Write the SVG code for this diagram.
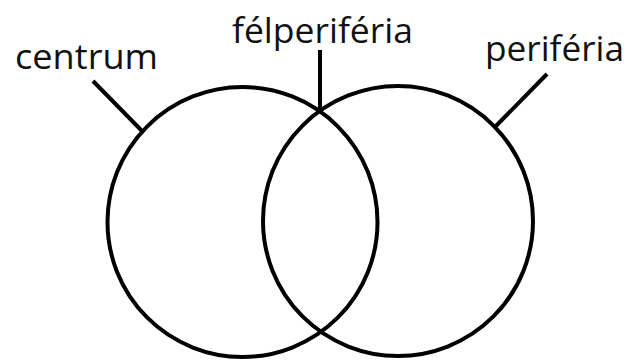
<svg xmlns="http://www.w3.org/2000/svg" width="627" height="361" viewBox="0 0 627 361">
<style>
.c{fill:none;stroke:#000;stroke-width:4}
.l{stroke:#000;stroke-width:4;fill:none}
text{font-family:"Open Sans","Noto Sans",sans-serif;font-size:35px;fill:#111}
</style>
<rect width="627" height="361" fill="#fff"/>
<g id="centrum">
<circle class="c" cx="242.5" cy="222" r="135"/>
<text x="15" y="69" textLength="143" lengthAdjust="spacingAndGlyphs">centrum</text>
</g>
<g id="periferia">
<circle class="c" cx="398" cy="221" r="135"/>
<text x="485" y="61" textLength="139" lengthAdjust="spacingAndGlyphs">periféria</text>
</g>
<g id="felperiferia">
<text x="232" y="43" textLength="181" lengthAdjust="spacingAndGlyphs">félperiféria</text>
</g>
<g id="connectors">
<line class="l" x1="93" y1="81" x2="143" y2="132"/>
<line class="l" x1="320" y1="50" x2="320" y2="110"/>
<line class="l" x1="547" y1="74" x2="495" y2="127"/>
</g>
</svg>
